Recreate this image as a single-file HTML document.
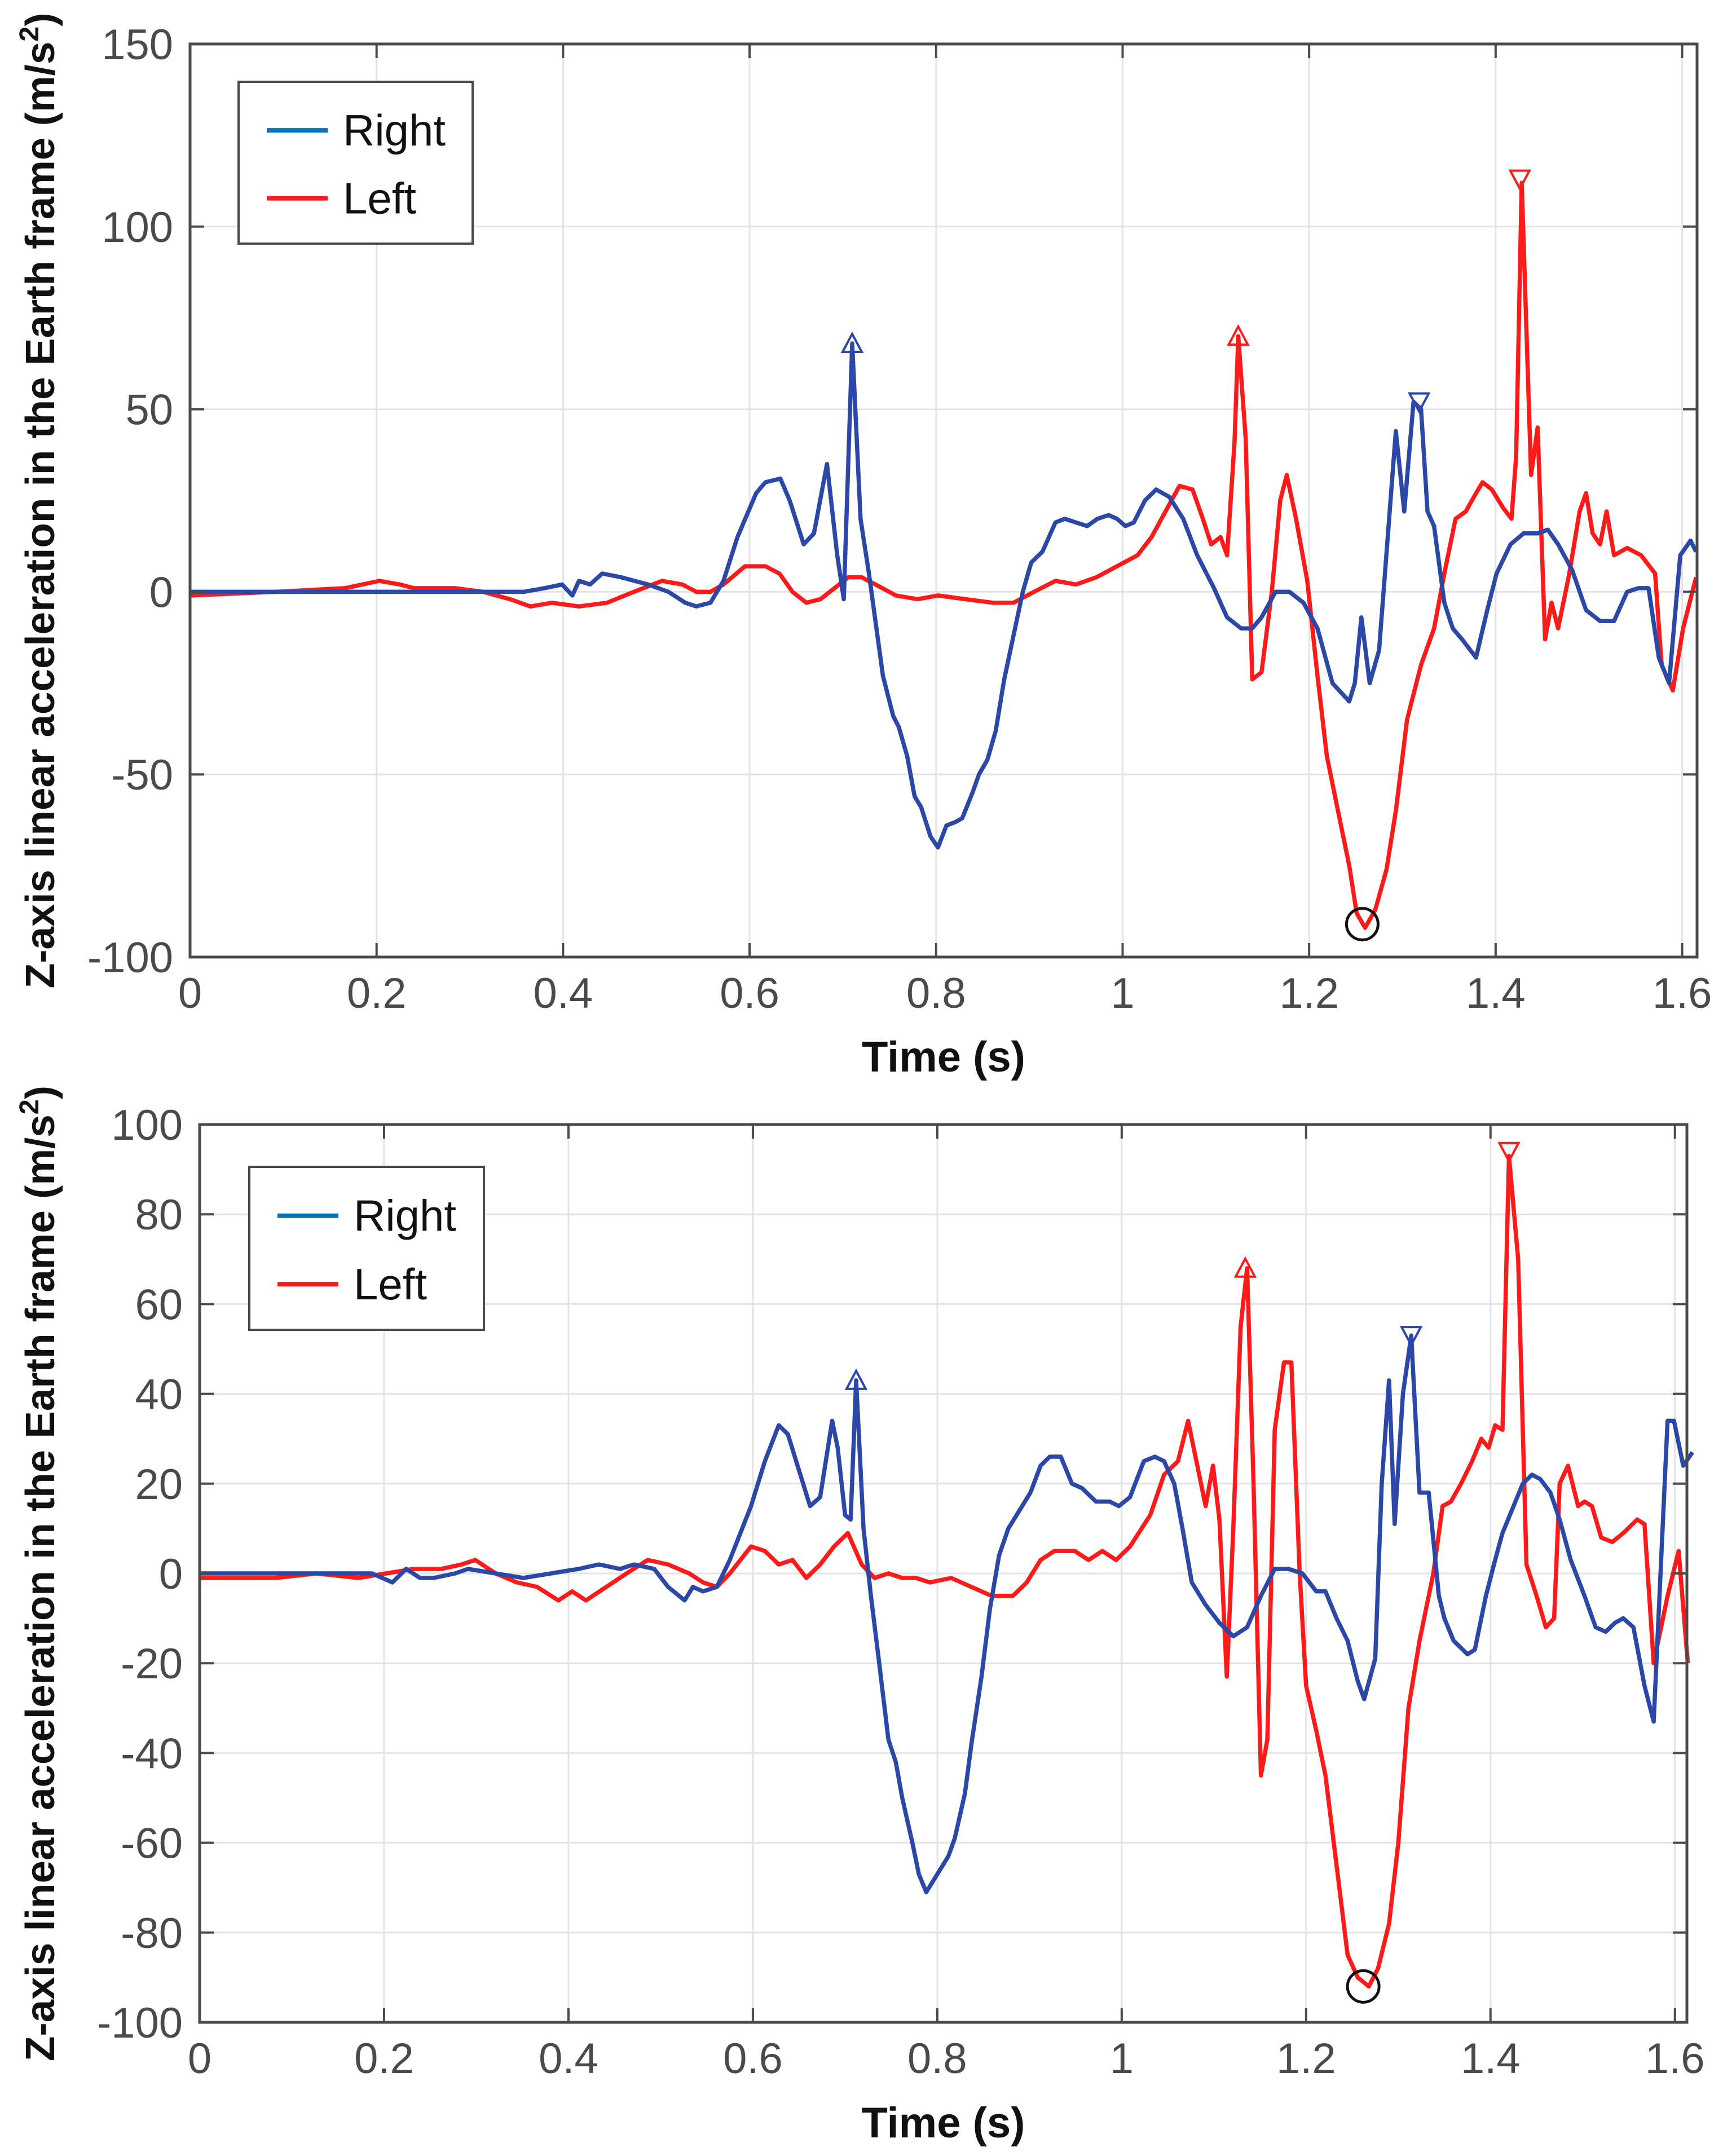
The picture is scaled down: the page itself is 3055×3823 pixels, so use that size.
<!DOCTYPE html>
<html><head><meta charset="utf-8"><style>
html,body{margin:0;padding:0;background:#fff;}
svg{display:block;font-family:"Liberation Sans",sans-serif;}
</style></head><body>
<svg id="fig" width="3055" height="3823" viewBox="0 0 3055 3823" xmlns="http://www.w3.org/2000/svg"></svg>
<script>
// ---------- Top chart data ----------
const topRightT=[0,0.240,0.358,0.380,0.399,0.410,0.417,0.429,0.442,0.462,0.491,0.513,0.531,0.543,0.558,0.572,0.587,0.607,0.617,0.633,0.643,0.658,0.669,0.683,0.694,0.701,0.710,0.719,0.728,0.743,0.754,0.760,0.769,0.777,0.784,0.794,0.802,0.811,0.821,0.828,0.839,0.846,0.855,0.864,0.873,0.883,0.893,0.902,0.914,0.928,0.938,0.950,0.962,0.973,0.985,0.994,1.003,1.012,1.024,1.036,1.050,1.065,1.080,1.098,1.112,1.127,1.139,1.149,1.164,1.179,1.194,1.209,1.225,1.243,1.249,1.256,1.265,1.275,1.293,1.302,1.312,1.320,1.327,1.334,1.345,1.354,1.364,1.379,1.391,1.401,1.416,1.430,1.445,1.456,1.467,1.482,1.497,1.512,1.527,1.541,1.553,1.564,1.575,1.586,1.598,1.609,1.615];
const topRightV=[0,0,0,1,2,-1,3,2,5,4,2,0,-3,-4,-3,3,15,27,30,31,25,13,16,35,10,-2,68,20,5,-23,-34,-37,-45,-56,-59,-67,-70,-64,-63,-62,-55,-50,-46,-38,-24,-12,0,8,11,19,20,19,18,20,21,20,18,19,25,28,26,20,10,1,-7,-10,-10,-7,0,0,-3,-10,-25,-30,-25,-7,-25,-16,44,22,52,50,22,18,-3,-10,-13,-18,-5,5,13,16,16,17,13,6,-5,-8,-8,0,1,1,-18,-25,10,14,11];
const topLeftT=[0,0.092,0.166,0.203,0.225,0.240,0.284,0.314,0.343,0.365,0.388,0.417,0.447,0.476,0.506,0.528,0.543,0.558,0.572,0.595,0.617,0.632,0.646,0.661,0.676,0.691,0.706,0.720,0.735,0.757,0.780,0.802,0.831,0.861,0.883,0.905,0.928,0.950,0.972,0.994,1.016,1.031,1.046,1.061,1.075,1.086,1.095,1.105,1.112,1.120,1.124,1.132,1.139,1.149,1.160,1.169,1.176,1.186,1.198,1.209,1.219,1.231,1.243,1.251,1.260,1.271,1.283,1.293,1.305,1.320,1.334,1.345,1.357,1.368,1.379,1.386,1.396,1.408,1.417,1.422,1.428,1.438,1.445,1.453,1.460,1.467,1.479,1.490,1.497,1.504,1.512,1.519,1.527,1.541,1.556,1.571,1.578,1.590,1.601,1.615];
const topLeftV=[-1,0,1,3,2,1,1,0,-2,-4,-3,-4,-3,0,3,2,0,0,2,7,7,5,0,-3,-2,1,4,4,2,-1,-2,-1,-2,-3,-3,0,3,2,4,7,10,15,22,29,28,20,13,15,10,41,70,42,-24,-22,0,25,32,20,3,-23,-45,-60,-75,-88,-92,-87,-76,-60,-35,-20,-10,5,20,22,27,30,28,23,20,37,112,32,45,-13,-3,-10,5,22,27,16,13,22,10,12,10,5,-20,-27,-10,4];
const topMarkT=[0.710,1.124,1.318,1.426,1.257];
const topMarkV=[68,70,52,113,-91];
const topYTicks=[150,100,50,0,-50,-100];
// ---------- Bottom chart data ----------
const botRightT=[0,0.082,0.187,0.209,0.224,0.239,0.254,0.277,0.291,0.321,0.351,0.381,0.411,0.433,0.456,0.471,0.493,0.508,0.526,0.535,0.546,0.561,0.575,0.598,0.613,0.628,0.638,0.650,0.662,0.673,0.686,0.692,0.700,0.706,0.712,0.720,0.728,0.737,0.747,0.755,0.762,0.773,0.780,0.788,0.800,0.812,0.819,0.830,0.837,0.848,0.857,0.867,0.877,0.889,0.901,0.912,0.922,0.934,0.946,0.957,0.972,0.987,0.997,1.009,1.024,1.036,1.046,1.057,1.066,1.076,1.091,1.106,1.121,1.136,1.151,1.166,1.181,1.196,1.211,1.221,1.233,1.245,1.256,1.263,1.275,1.282,1.290,1.296,1.305,1.314,1.323,1.333,1.344,1.350,1.360,1.375,1.383,1.395,1.405,1.413,1.423,1.435,1.445,1.454,1.465,1.475,1.487,1.502,1.514,1.525,1.535,1.544,1.555,1.567,1.577,1.592,1.599,1.609,1.619];
const botRightV=[0,0,0,-2,1,-1,-1,0,1,0,-1,0,1,2,1,2,1,-3,-6,-3,-4,-3,3,15,25,33,31,23,15,17,34,28,13,12,43,10,-5,-20,-37,-42,-50,-60,-67,-71,-67,-63,-59,-49,-38,-23,-8,4,10,14,18,24,26,26,20,19,16,16,15,17,25,26,25,20,10,-2,-7,-11,-14,-12,-5,1,1,0,-4,-4,-10,-15,-24,-28,-19,20,43,11,40,53,18,18,-5,-10,-15,-18,-17,-5,3,9,14,20,22,21,18,12,3,-5,-12,-13,-11,-10,-12,-25,-33,34,34,24,27];
const botLeftT=[0,0.082,0.127,0.172,0.202,0.232,0.262,0.284,0.299,0.321,0.344,0.366,0.389,0.404,0.419,0.441,0.463,0.486,0.508,0.531,0.546,0.561,0.575,0.598,0.613,0.628,0.643,0.658,0.673,0.688,0.703,0.718,0.732,0.747,0.762,0.777,0.792,0.815,0.837,0.859,0.882,0.897,0.912,0.927,0.949,0.964,0.979,0.994,1.009,1.031,1.046,1.061,1.072,1.084,1.091,1.099,1.106,1.114,1.121,1.129,1.136,1.143,1.151,1.158,1.166,1.176,1.184,1.193,1.200,1.211,1.221,1.233,1.245,1.256,1.268,1.278,1.290,1.300,1.311,1.323,1.338,1.348,1.357,1.368,1.380,1.390,1.398,1.405,1.413,1.420,1.430,1.439,1.450,1.460,1.469,1.475,1.484,1.495,1.502,1.510,1.520,1.532,1.544,1.559,1.567,1.577,1.592,1.604,1.614];
const botLeftV=[-1,-1,0,-1,0,1,1,2,3,0,-2,-3,-6,-4,-6,-3,0,3,2,0,-2,-3,0,6,5,2,3,-1,2,6,9,2,-1,0,-1,-1,-2,-1,-3,-5,-5,-2,3,5,5,3,5,3,6,13,22,25,34,22,15,24,12,-23,10,55,68,20,-45,-37,32,47,47,0,-25,-35,-45,-65,-85,-90,-92,-88,-78,-60,-30,-15,0,15,16,20,25,30,28,33,32,93,70,2,-5,-12,-10,20,24,15,16,15,8,7,9,12,11,-20,-5,5,-20];
const botMarkT=[0.712,1.134,1.314,1.420,1.262];
const botMarkV=[43,68,53,94,-92];
const botYTicks=[100,80,60,40,20,0,-20,-40,-60,-80,-100];
const xTicks=[0,0.2,0.4,0.6,0.8,1,1.2,1.4,1.6];
const xTickLabels=["0","0.2","0.4","0.6","0.8","1","1.2","1.4","1.6"];
const seriesNames=["Right","Left"];

const NS="http://www.w3.org/2000/svg";
const svg=document.getElementById('fig');
function mk(tag,attrs,parent){const e=document.createElementNS(NS,tag);for(const k in attrs)e.setAttribute(k,attrs[k]);(parent||svg).appendChild(e);return e;}

function chart(cfg){
  const g=mk('g',{});
  
  
  const {L,T,R,B,xmax,ymin,ymax}=cfg;
  const sx=t=>L+(t/xmax)*(R-L);
  const sy=v=>B-(v-ymin)/(ymax-ymin)*(B-T);
  cfg.yTicks.forEach(v=>{
    const l=mk('line',{x1:L,x2:R,y1:sy(v),y2:sy(v),stroke:'#e3e3e3','stroke-width':3},g);
    
    
  });
  xTicks.forEach(t=>{
    const l=mk('line',{x1:sx(t),x2:sx(t),y1:T,y2:B,stroke:'#e3e3e3','stroke-width':3},g);
    
    
  });
  function line(ts,vs,color,nm){
    const p=mk('polyline',{points:ts.map((t,i)=>sx(t).toFixed(1)+','+sy(vs[i]).toFixed(1)).join(' '),fill:'none',stroke:color,'stroke-width':7.5,'stroke-linejoin':'round'},g);
    
    
  }
  line(cfg.lT,cfg.lV,'#ff1a1a','left-series-line');
  line(cfg.rT,cfg.rV,'#2b47a8','right-series-line');
  const mcol=['#2b47a8','#ff1a1a','#2b47a8','#ff1a1a','#111'];
  const mtype=['up','up','down','down','circle'];
  cfg.mT.forEach((t,i)=>{
    const x=sx(t),y=sy(cfg.mV[i]);let e;
    if(mtype[i]==='circle'){e=mk('circle',{cx:x,cy:y,r:28,fill:'none',stroke:mcol[i],'stroke-width':5},g);}
    else if(mtype[i]==='up'){e=mk('polygon',{points:`${x-17},${y+15} ${x+17},${y+15} ${x},${y-17}`,fill:'none',stroke:mcol[i],'stroke-width':4},g);}
    else{e=mk('polygon',{points:`${x-17},${y-15} ${x+17},${y-15} ${x},${y+17}`,fill:'none',stroke:mcol[i],'stroke-width':4},g);}
    
    
  });
  const box=mk('rect',{x:L,y:T,width:R-L,height:B-T,fill:'none',stroke:'#4a4a4a','stroke-width':5},g);
  
  
  cfg.yTicks.forEach(v=>{
    mk('line',{x1:L,x2:L+25,y1:sy(v),y2:sy(v),stroke:'#4a4a4a','stroke-width':4},g);
    mk('line',{x1:R,x2:R-25,y1:sy(v),y2:sy(v),stroke:'#4a4a4a','stroke-width':4},g);
    const tx=mk('text',{x:L-30,y:sy(v)+27,'text-anchor':'end','font-size':76,fill:'#4a4a4a'},g);
    tx.textContent=String(v);
    
    
  });
  xTicks.forEach((t,i)=>{
    mk('line',{x1:sx(t),x2:sx(t),y1:B,y2:B-25,stroke:'#4a4a4a','stroke-width':4},g);
    mk('line',{x1:sx(t),x2:sx(t),y1:T,y2:T+25,stroke:'#4a4a4a','stroke-width':4},g);
    const tx=mk('text',{x:sx(t),y:B+90,'text-anchor':'middle','font-size':76,fill:'#4a4a4a'},g);
    tx.textContent=xTickLabels[i];
    
    
  });
  const xt=mk('text',{x:(L+R)/2,y:cfg.xTitleY,'text-anchor':'middle','font-size':76,'font-weight':'bold',fill:'#111',textLength:290,lengthAdjust:'spacingAndGlyphs'},g);
  xt.textContent='Time (s)';
  
  
  const yt=mk('text',{x:0,y:0,'text-anchor':'middle','font-size':72,'font-weight':'bold',fill:'#111',textLength:1730,lengthAdjust:'spacingAndGlyphs',transform:`translate(96,${(T+B)/2}) rotate(-90)`},g);
  yt.innerHTML='Z-axis linear acceleration in the Earth frame (m/s<tspan dy="-28" font-size="48">2</tspan><tspan dy="28">)</tspan>';
  
  
  const lg=cfg.leg;
  const lgg=mk('g',{},g);
  
  
  mk('rect',{x:lg.x,y:lg.y,width:lg.w,height:lg.h,fill:'#fff',stroke:'#4a4a4a','stroke-width':4},lgg);
  const cols=['#0072bd','#ff1a1a'];
  seriesNames.forEach((n,i)=>{
    const yy=lg.y+lg.h*(0.30+0.42*i);
    const ln=mk('line',{x1:lg.x+50,x2:lg.x+158,y1:yy,y2:yy,stroke:cols[i],'stroke-width':8},lgg);
    
    
    const tx=mk('text',{x:lg.x+185,y:yy+27,'font-size':78,fill:'#111'},lgg);
    tx.textContent=n;
    
    
  });
}

chart({name:'top-chart',L:337,T:78,R:3009,B:1697,xmax:1.616,ymin:-100,ymax:150,yTicks:topYTicks,
  rT:topRightT,rV:topRightV,lT:topLeftT,lV:topLeftV,mT:topMarkT,mV:topMarkV,xTitleY:1900,
  leg:{x:423,y:145,w:415,h:287}});
chart({name:'bottom-chart',L:354,T:1994,R:2991,B:3586,xmax:1.613,ymin:-100,ymax:100,yTicks:botYTicks,
  rT:botRightT,rV:botRightV,lT:botLeftT,lV:botLeftV,mT:botMarkT,mV:botMarkV,xTitleY:3790,
  leg:{x:442,y:2069,w:416,h:289}});
</script>
</body></html>
